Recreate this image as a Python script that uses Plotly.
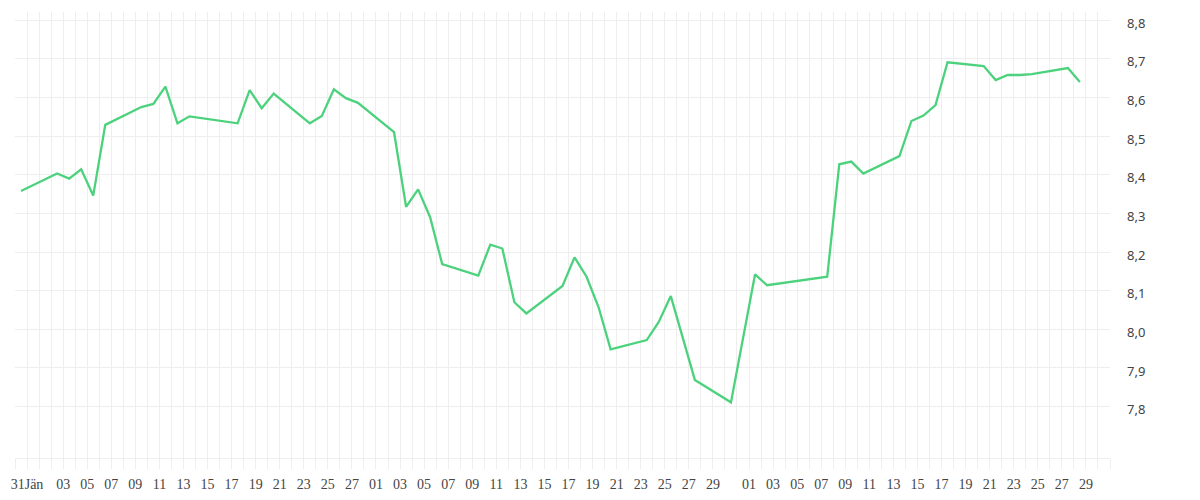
import pandas as pd
import plotly.graph_objects as go

# price readings (one per day, gaps where nothing was recorded)
dates = [
    "2023-01-30", "2023-02-02", "2023-02-03", "2023-02-04", "2023-02-05", "2023-02-06",
    "2023-02-09", "2023-02-10", "2023-02-11", "2023-02-12", "2023-02-13", "2023-02-17",
    "2023-02-18", "2023-02-19", "2023-02-20", "2023-02-23", "2023-02-24", "2023-02-25",
    "2023-02-26", "2023-02-27", "2023-03-02", "2023-03-03", "2023-03-04", "2023-03-05",
    "2023-03-06", "2023-03-09", "2023-03-10", "2023-03-11", "2023-03-12", "2023-03-13",
    "2023-03-16", "2023-03-17", "2023-03-18", "2023-03-19", "2023-03-20", "2023-03-23",
    "2023-03-24", "2023-03-25", "2023-03-27", "2023-03-30", "2023-04-01", "2023-04-02",
    "2023-04-07", "2023-04-08", "2023-04-09", "2023-04-10", "2023-04-13", "2023-04-14",
    "2023-04-15", "2023-04-16", "2023-04-17", "2023-04-20", "2023-04-21", "2023-04-22",
    "2023-04-23", "2023-04-24", "2023-04-27", "2023-04-28",
]
values = [
    8.358, 8.403, 8.390, 8.414, 8.346, 8.529,
    8.575, 8.583, 8.628, 8.533, 8.551, 8.533,
    8.619, 8.572, 8.610, 8.533, 8.552, 8.621,
    8.598, 8.586, 8.510, 8.317, 8.362, 8.290,
    8.169, 8.139, 8.219, 8.209, 8.070, 8.041,
    8.112, 8.186, 8.136, 8.057, 7.948, 7.972,
    8.019, 8.086, 7.869, 7.811, 8.142, 8.114,
    8.136, 8.427, 8.434, 8.403, 8.448, 8.539,
    8.553, 8.580, 8.691, 8.681, 8.645, 8.658,
    8.658, 8.660, 8.676, 8.640,
]

# labelled ticks on the date axis
tick_dates = (
    ["2023-01-31"]
    + ["2023-02-%02d" % d for d in range(3, 28, 2)]
    + ["2023-03-%02d" % d for d in range(1, 30, 2)]
    + ["2023-04-01"]
    + ["2023-04-%02d" % d for d in range(3, 30, 2)]
)
tick_labels = (
    ["31Jän"]
    + ["%02d" % d for d in range(3, 28, 2)]
    + ["%02d" % d for d in range(1, 30, 2)]
    + ["01"]
    + ["%02d" % d for d in range(3, 30, 2)]
)

# value axis ticks
y_ticks = [7.8, 7.9, 8.0, 8.1, 8.2, 8.3, 8.4, 8.5, 8.6, 8.7, 8.8]
y_labels = ["7,8", "7,9", "8,0", "8,1", "8,2", "8,3", "8,4", "8,5", "8,6", "8,7", "8,8"]

grid = "#eeeeee"

# points sit in the middle of their day cell
x = pd.to_datetime(dates) + pd.Timedelta(hours=12)

fig = go.Figure()
fig.add_trace(go.Scatter(
    x=x, y=values, mode="lines",
    line=dict(color="#4cd27d", width=2.3),
    hoverinfo="x+y",
))

# page body adds 8px, margins compensate
fig.update_layout(
    width=1200, height=500,
    margin=dict(l=7, r=98, t=4, b=50),
    paper_bgcolor="white", plot_bgcolor="white",
    showlegend=False,
)

fig.update_xaxes(
    range=["2023-01-30", "2023-05-01"],
    automargin=False,
    tickmode="array", tickvals=tick_dates, ticktext=tick_labels,
    showgrid=True, gridcolor=grid, gridwidth=1,
    ticks="outside", ticklen=10, tickcolor=grid,
    showline=True, linecolor=grid, linewidth=1,
    tickfont=dict(family="Liberation Serif", size=14, color="#444444"),
    ticklabelstandoff=3,
    zeroline=False,
    minor=dict(dtick=86400000, tick0="2023-01-30", showgrid=True, gridcolor=grid,
               ticks="outside", ticklen=10, tickcolor=grid),
)

fig.update_yaxes(
    side="right",
    automargin=False,
    range=[7.667, 8.821],
    tickmode="array", tickvals=y_ticks, ticktext=y_labels,
    showgrid=True, gridcolor=grid, gridwidth=1,
    ticks="", showline=False, zeroline=False,
    tickfont=dict(family="Noto Sans", size=13, color="#444444"),
    ticklabelstandoff=16,
    ticklabelshift=3,
)

fig.write_html("out.html")
